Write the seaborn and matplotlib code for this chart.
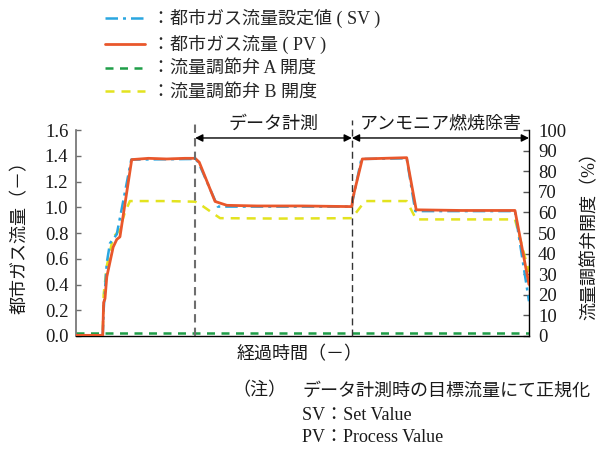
import numpy as np
import pandas as pd
import matplotlib
matplotlib.use("Agg")
import matplotlib.pyplot as plt
from matplotlib.lines import Line2D
import seaborn as sns

# ---- data (elapsed time in arbitrary units 0-100) ----
sv_time = [0, 5.9, 6.1, 6.8, 7.5, 9.0, 12.2, 26.3, 27.0, 31.3, 60.9, 61.0, 63.0, 73.0, 74.9, 96.9, 100]
sv_flow = [0.0, 0.0, 0.20, 0.57, 0.72, 0.79, 1.37, 1.375, 1.35, 1.005, 1.005, 1.04, 1.375, 1.38, 0.97, 0.97, 0.27]

pv_time = [0, 5.9, 6.1, 6.4, 6.8, 8.2, 9.0, 9.7, 12.3, 16, 20, 24, 26.3, 27.2, 30.7, 33.3,
           40, 50, 60.9, 61.1, 63.2, 68, 73.0, 75.1, 85, 96.9, 100]
pv_flow = [0.005, 0.005, 0.26, 0.29, 0.46, 0.69, 0.75, 0.77, 1.37, 1.38, 1.375, 1.38, 1.38, 1.35,
           1.045, 1.015, 1.01, 1.01, 1.005, 1.07, 1.375, 1.38, 1.385, 0.98, 0.975, 0.975, 0.40]

valve_a_time = [0, 100]
valve_a_open = [1.3, 1.3]

valve_b_time = [0, 5.9, 6.1, 6.8, 8.2, 9.5, 10.8, 11.9, 20, 26.3, 28, 31.8, 45, 60.9, 63.8,
                73.0, 75.1, 96.9, 100]
valve_b_open = [0.3, 0.3, 20, 34, 48, 51, 60, 65.5, 65.5, 65.2, 63, 57.2, 57, 57.2, 65.5,
                65.5, 56.6, 56.6, 31]

event_times = [26.3, 60.9]        # start of measurement / start of ammonia abatement
event_labels = ["データ計測", "アンモニア燃焼除害"]

legend_labels = ["：都市ガス流量設定値 ( SV )", "：都市ガス流量 ( PV )",
                 "：流量調節弁 A 開度", "：流量調節弁 B 開度"]

C_SV = "#2AA6E0"
C_PV = "#E9572B"
C_A = "#1F9E48"
C_B = "#E3E31F"
TXT = "#1a1a1a"
FS = 13

sns.set_style("ticks")
FAM = ["Liberation Serif", "Noto Sans CJK JP"]
plt.rcParams["font.family"] = FAM
plt.rcParams["axes.unicode_minus"] = False

fig = plt.figure(figsize=(6.01, 4.5), dpi=100)
W, H = 601, 450
L, R, T, B = 76, 529, 130, 336
ax = fig.add_axes([L / W, 1 - B / H, (R - L) / W, (B - T) / H])
ax2 = ax.twinx()

df_sv = pd.DataFrame({"t": sv_time, "v": sv_flow})
df_pv = pd.DataFrame({"t": pv_time, "v": pv_flow})
df_a = pd.DataFrame({"t": valve_a_time, "v": valve_a_open})
df_b = pd.DataFrame({"t": valve_b_time, "v": valve_b_open})

# valve openings on the right axis (%)
sns.lineplot(data=df_a, x="t", y="v", ax=ax2, color=C_A, lw=1.8,
             linestyle=(0, (3.2, 2.6)), estimator=None, sort=False, zorder=2)
sns.lineplot(data=df_b, x="t", y="v", ax=ax2, color=C_B, lw=1.8,
             linestyle=(0, (3.6, 2.8)), estimator=None, sort=False, zorder=2)
# flow rates on the left axis
ax.set_zorder(ax2.get_zorder() + 1)
ax.patch.set_visible(False)
sns.lineplot(data=df_sv, x="t", y="v", ax=ax, color=C_SV, lw=1.8,
             linestyle=(0, (5, 2, 1.2, 2)), estimator=None, sort=False, zorder=3)
sns.lineplot(data=df_pv, x="t", y="v", ax=ax, color=C_PV, lw=2.0,
             estimator=None, sort=False, zorder=4)

ax.set_xlim(0, 100)
ax.set_ylim(0, 1.6)
ax2.set_ylim(0, 100)
ax.set_xticks([])
ax.set_yticks(np.arange(0, 1.61, 0.2))
ax.set_yticklabels([f"{v:.1f}" for v in np.arange(0, 1.61, 0.2)])
ax2.set_yticks(np.arange(0, 101, 10))
ax.set_xlabel("")
ax.set_ylabel("")
ax2.set_xlabel("")
ax2.set_ylabel("")

for a in (ax, ax2):
    a.spines["top"].set_visible(False)
ax.spines["left"].set_color("#6E6E6E")
ax.spines["left"].set_linewidth(1.2)
ax.spines["bottom"].set_color("black")
ax.spines["bottom"].set_linewidth(1.0)
ax.spines["right"].set_visible(False)
ax2.spines["left"].set_visible(False)
ax2.spines["bottom"].set_visible(False)
ax2.spines["right"].set_color("black")
ax2.spines["right"].set_linewidth(1.0)

ax.tick_params(axis="y", direction="in", length=3.5, width=1.0, color="#6E6E6E",
               pad=5.5, labelsize=13.5, labelcolor=TXT)
ax2.tick_params(axis="y", direction="in", length=4.5, width=1.0, color="#555555",
                pad=6.5, labelsize=13.5, labelcolor=TXT)

# event markers and interval arrows
y_top = 1.678
for i, te in enumerate(event_times):
    ax.plot([te, te], [0, y_top], color="#6E6E6E" if i == 0 else "#333333",
            lw=1.5 if i == 0 else 1.0, linestyle=(0, (4, 2.5)) if i == 0 else (0, (5, 3)),
            clip_on=False, zorder=5)

spans = [(event_times[0], event_times[1]), (event_times[1], 100)]
y_arrow = 1.538
for (a0, a1), lab in zip(spans, event_labels):
    ax.annotate("", xy=(a1, y_arrow), xytext=(a0, y_arrow),
                arrowprops=dict(arrowstyle="<|-|>", color="black", lw=1.0,
                                shrinkA=0, shrinkB=0, mutation_scale=11),
                annotation_clip=False, zorder=6)
    ax.text((a0 + a1) / 2, y_arrow + 0.04, lab, ha="center", va="bottom",
            fontsize=FS, family=FAM, color=TXT, clip_on=False)

# axis titles
fig.text(20 / W, 1 - 233 / H, "都市ガス流量（－）", rotation=90, ha="center", va="center",
         fontsize=FS, family=FAM, color=TXT)
fig.text(590 / W, 1 - 232 / H, "流量調節弁開度（%）", rotation=90, ha="center", va="center",
         fontsize=FS, family=FAM, color=TXT)
fig.text(300 / W, 1 - 355 / H, "経過時間（－）", ha="center", va="center",
         fontsize=FS, family=FAM, color=TXT)

# notes
fig.text(232 / W, 1 - 391 / H, "（注）", ha="left", va="center", fontsize=FS,
         family=FAM, color=TXT)
fig.text(303 / W, 1 - 391 / H, "データ計測時の目標流量にて正規化", ha="left", va="center",
         fontsize=FS, family=FAM, color=TXT)
fig.text(302 / W, 1 - 415 / H, "SV：Set Value", ha="left", va="center", fontsize=FS,
         family=FAM, color=TXT)
fig.text(302 / W, 1 - 438 / H, "PV：Process Value", ha="left", va="center", fontsize=FS,
         family=FAM, color=TXT)

# legend
handles = [
    Line2D([], [], color=C_SV, lw=1.8, linestyle=(0, (5, 2, 1.2, 2))),
    Line2D([], [], color=C_PV, lw=2.0),
    Line2D([], [], color=C_A, lw=1.8, linestyle=(0, (3.2, 2.6))),
    Line2D([], [], color=C_B, lw=1.8, linestyle=(0, (3.6, 2.8))),
]
fig.legend(handles, legend_labels, loc="upper left", bbox_to_anchor=(105 / W, 1 - 9 / H),
           frameon=False, handlelength=2.2, handletextpad=0.4,
           labelspacing=0.38, borderpad=0, borderaxespad=0, prop={"family": FAM, "size": FS})

fig.savefig("out.png", dpi=100)
